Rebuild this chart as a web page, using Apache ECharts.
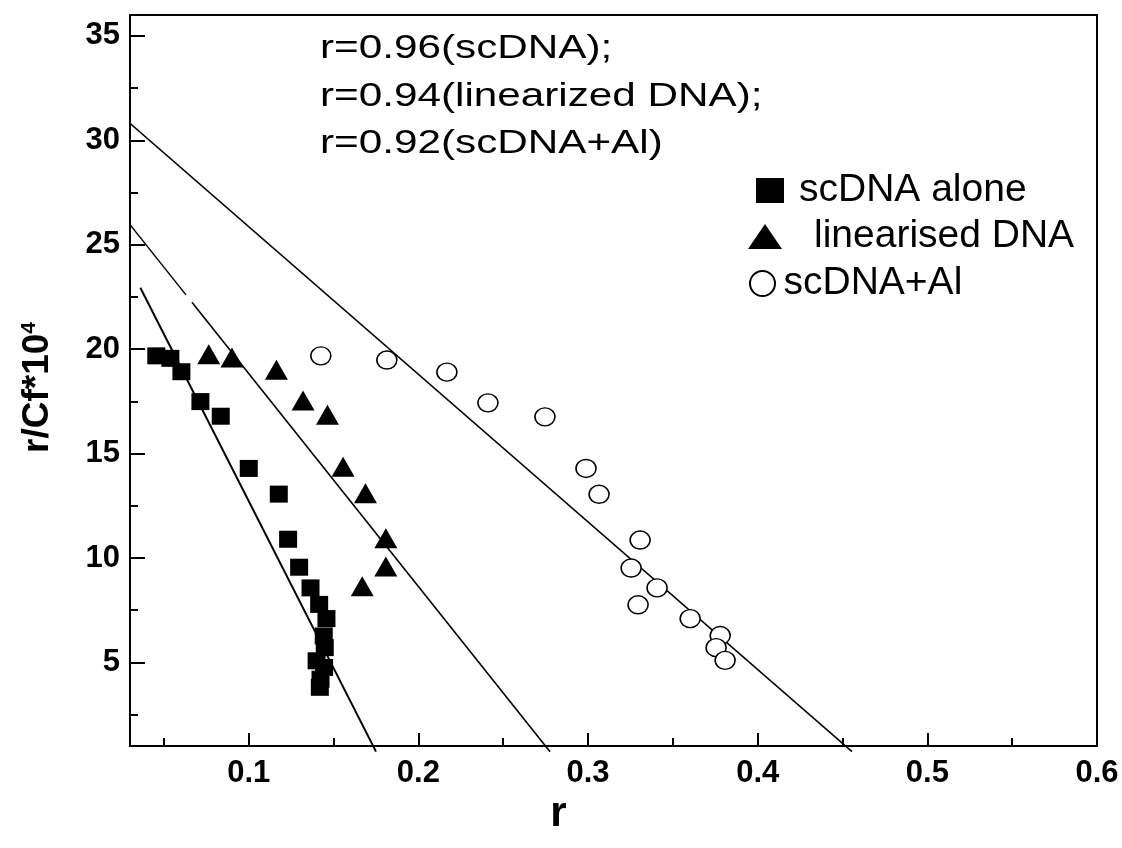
<!DOCTYPE html>
<html><head><meta charset="utf-8">
<script src="https://cdn.jsdelivr.net/npm/echarts@6/dist/echarts.min.js"></script>
<style>html,body{margin:0;padding:0;background:#fff}#c{width:1122px;height:848px}</style>
</head><body><div id="c"></div>
<script>
const xTicks = [0.1, 0.2, 0.3, 0.4, 0.5, 0.6];
const xMinorTicks = [0.05, 0.15, 0.25, 0.35, 0.45, 0.55];
const yTicks = [5, 10, 15, 20, 25, 30, 35];
const yMinorTicks = [2.5, 7.5, 12.5, 17.5, 22.5, 27.5, 32.5];

const scDNA = [[0.0455,19.68],[0.0538,19.56],[0.0603,18.92],[0.0715,17.49],[0.0835,16.79],[0.1,14.29],[0.1177,13.06],[0.1232,10.9],[0.1297,9.56],[0.1364,8.57],[0.1415,7.78],[0.1458,7.1],[0.1442,6.27],[0.1448,5.71],[0.14,5.08],[0.1444,4.76],[0.1423,4.2],[0.1419,3.81]];
const linearDNA = [[0.0764,19.76],[0.0901,19.6],[0.1163,19.01],[0.132,17.54],[0.1464,16.86],[0.1556,14.37],[0.1688,13.1],[0.1808,10.95],[0.1808,9.6],[0.1669,8.65]];
const scDNAAl = [[0.1425,19.68],[0.1814,19.48],[0.2168,18.9],[0.241,17.43],[0.2746,16.76],[0.2988,14.29],[0.3065,13.05],[0.3307,10.86],[0.3254,9.52],[0.3407,8.57],[0.3295,7.76],[0.3602,7.1],[0.3779,6.29],[0.3755,5.71],[0.3808,5.1]];

const fitScDNA = [[0.0361,22.94],[0.175,0.73]];
const fitLinearUpper = [[0.0286,26.11],[0.063,22.6]];
const fitLinearLower = [[0.0665,22.25],[0.2776,0.73]];
const fitAl = [[0.0288,30.9],[0.4556,0.73]];

const annotations = ['r=0.96(scDNA);', 'r=0.94(linearized DNA);', 'r=0.92(scDNA+Al)'];
const legendNames = ['scDNA alone', 'linearised DNA', 'scDNA+Al'];

const FF = '"Liberation Sans", Arial, sans-serif';
const chart = echarts.init(document.getElementById('c'));
const tickLabel = {fontSize: 31, fontWeight: 'bold', fontFamily: FF, color: '#000'};
const lineS = (data, w) => ({type: 'line', data, symbol: 'none', showSymbol: false, clip: false, silent: true, z: 1,
  lineStyle: {color: '#000', width: w}});
const legendText = (pad) => ({fontSize: 39, fontFamily: FF, color: '#000', padding: [0, 0, 0, pad]});

chart.setOption({
  animation: false,
  backgroundColor: '#fff',
  grid: {left: 130, right: 25, top: 15, bottom: 102, show: true, borderColor: '#000', borderWidth: 2, backgroundColor: 'transparent'},
  xAxis: [
    {type: 'value', min: 0.03, max: 0.6, position: 'bottom',
     axisLine: {lineStyle: {color: '#000', width: 2}},
     axisTick: {inside: true, length: 13, lineStyle: {color: '#000', width: 2}, customValues: xTicks},
     axisLabel: Object.assign({margin: 12, customValues: xTicks}, tickLabel),
     splitLine: {show: false},
     name: 'r', nameLocation: 'middle', nameGap: 40,
     nameTextStyle: {fontSize: 42, fontWeight: 'bold', fontFamily: FF, color: '#000', padding: [0, 110, 0, 0]}},
    {type: 'value', min: 0.03, max: 0.6, position: 'bottom',
     axisLine: {show: false},
     axisTick: {inside: true, length: 8, lineStyle: {color: '#000', width: 2}, customValues: xMinorTicks},
     axisLabel: {show: false}, splitLine: {show: false}}
  ],
  yAxis: [
    {type: 'value', min: 1, max: 36, position: 'left',
     axisLine: {show: true, lineStyle: {color: '#000', width: 2}},
     axisTick: {show: true, inside: true, length: 15, lineStyle: {color: '#000', width: 2}, customValues: yTicks},
     axisLabel: Object.assign({margin: 10, customValues: yTicks}, tickLabel),
     splitLine: {show: false},
     name: '{a|r/Cf*10}{b|4}', nameLocation: 'middle', nameGap: 74, nameRotate: 90,
     nameTextStyle: {color: '#000', padding: [0, 14, 0, 0], rich: {
       a: {fontSize: 37, fontWeight: 'bold', fontFamily: FF, color: '#000'},
       b: {fontSize: 21, fontWeight: 'bold', fontFamily: FF, color: '#000', verticalAlign: 'top'}}}},
    {type: 'value', min: 1, max: 36, position: 'left',
     axisLine: {show: false},
     axisTick: {show: true, inside: true, length: 8, lineStyle: {color: '#000', width: 2}, customValues: yMinorTicks},
     axisLabel: {show: false}, splitLine: {show: false}}
  ],
  legend: [
    {data: [{name: legendNames[0], icon: 'rect'}], left: 756, top: 171, padding: 0, itemWidth: 28, itemHeight: 25, selectedMode: false,
     textStyle: legendText(10)},
    {data: [{name: legendNames[1], icon: 'triangle'}], left: 748, top: 217, padding: 0, itemWidth: 34, itemHeight: 25, selectedMode: false,
     symbolKeepAspect: false, textStyle: legendText(27)},
    {data: [{name: legendNames[2], icon: 'circle'}], left: 749, top: 264, padding: 0, itemWidth: 26, itemHeight: 25, selectedMode: false,
     textStyle: legendText(3)}
  ],
  graphic: annotations.map((t, i) => ({
    type: 'text', x: 320, y: 49 + i * 47.7, scaleX: 1.28, silent: true,
    style: {text: t, font: '33px ' + FF, fill: '#000', textAlign: 'left', textVerticalAlign: 'middle', align: 'left', verticalAlign: 'middle'}
  })),
  series: [
    lineS(fitAl, 1.5),
    lineS(fitLinearUpper, 1.4),
    lineS(fitLinearLower, 1.6),
    lineS(fitScDNA, 2),
    {type: 'scatter', name: legendNames[0], data: scDNA, symbol: 'rect', symbolSize: [18, 17], z: 3,
     itemStyle: {color: '#000', opacity: 1}},
    {type: 'scatter', name: legendNames[1], data: linearDNA, symbol: 'triangle', symbolSize: [23, 20], z: 3,
     itemStyle: {color: '#000', opacity: 1}},
    {type: 'scatter', name: legendNames[2], data: scDNAAl, symbol: 'circle', symbolSize: [20, 18], z: 3,
     itemStyle: {color: '#fff', borderColor: '#000', borderWidth: 1.5, opacity: 1}}
  ]
});
</script></body></html>
